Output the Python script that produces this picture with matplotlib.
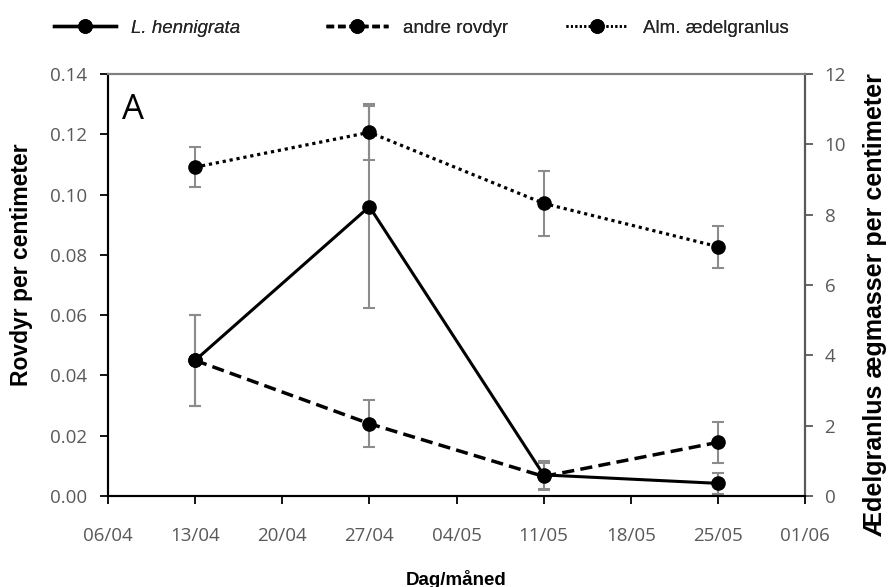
import matplotlib
matplotlib.use("Agg")
import matplotlib.pyplot as plt
import matplotlib.dates as mdates
from matplotlib.lines import Line2D
from datetime import datetime

# ---- data ----
sample_dates = ["13/04", "27/04", "11/05", "25/05"]
tick_dates = ["06/04", "13/04", "20/04", "27/04", "04/05", "11/05", "18/05", "25/05", "01/06"]
hennigrata = [0.045, 0.096, 0.007, 0.0042]
hennigrata_err = [0.015, 0.0335, 0.0047, 0.0036]
andre_rovdyr = [0.045, 0.024, 0.0065, 0.0178]
andre_rovdyr_err = [0.015, 0.0078, 0.0045, 0.0069]
granlus = [9.35, 10.34, 8.32, 7.09]
granlus_err = [0.56, 0.80, 0.92, 0.60]
left_ticks = [0.00, 0.02, 0.04, 0.06, 0.08, 0.10, 0.12, 0.14]
right_ticks = [0, 2, 4, 6, 8, 10, 12]
legend_labels = ["L. hennigrata", "andre rovdyr", "Alm. ædelgranlus"]

YEAR = 2013
def to_dt(s):
    d, m = s.split("/")
    return datetime(YEAR, int(m), int(d))

x = [to_dt(s) for s in sample_dates]
xt = [to_dt(s) for s in tick_dates]

tick_font = ["Open Sans", "DejaVu Sans"]
lab_font = ["Liberation Sans", "DejaVu Sans"]
leg_font = ["Liberation Sans", "DejaVu Sans"]
leg_size = 13.5
tick_color = "#595959"

fig = plt.figure(figsize=(8.88, 5.87), dpi=100)
ax = fig.add_axes([0.1216, 0.155, 0.785, 0.719])
ax2 = ax.twinx()

err_kw = dict(ecolor="#8c8c8c", elinewidth=1.5, capsize=4, capthick=1.5)
MS = 9.5
ls_solid = "-"
ls_dash = (0, (3.5, 1.8))
ls_dot = (0, (1, 1.2))

ax.errorbar(x, hennigrata, yerr=hennigrata_err, color="black", lw=2.2,
            ls=ls_solid, marker="o", ms=MS, **err_kw)
ax.errorbar(x, andre_rovdyr, yerr=andre_rovdyr_err, color="black", lw=2.5,
            ls=ls_dash, marker="o", ms=MS, **err_kw)
ax2.errorbar(x, granlus, yerr=granlus_err, color="black", lw=2.3,
             ls=ls_dot, marker="o", ms=MS, **err_kw)

ax.set_xlim(xt[0], xt[-1])
ax.set_ylim(0, 0.14)
ax2.set_ylim(0, 12)
ax.set_xticks(xt)
ax.xaxis.set_major_formatter(mdates.DateFormatter("%d/%m"))
ax.set_yticks(left_ticks)
ax.set_yticklabels([f"{v:.2f}" for v in left_ticks])
ax2.set_yticks(right_ticks)

for a in (ax, ax2):
    for sp in a.spines.values():
        sp.set_linewidth(1.5)
    a.spines["top"].set_color("#7f7f7f")
ax.spines["left"].set_color("black")
ax.spines["bottom"].set_color("black")
ax2.spines["right"].set_color("#595959")
ax.tick_params(axis="both", direction="out", length=6, width=1.3, colors="black",
               labelcolor=tick_color, labelsize=13.5)
ax.tick_params(axis="y", pad=9)
ax.tick_params(axis="x", pad=16)
ax2.tick_params(axis="y", direction="out", length=6, width=1.3, colors="#595959",
                labelcolor=tick_color, labelsize=13.5, pad=8)
for lab in ax.get_xticklabels() + ax.get_yticklabels() + ax2.get_yticklabels():
    lab.set_family(tick_font)

ax.set_ylabel("Rovdyr per centimeter", family=lab_font, fontweight="bold",
              fontsize=16.5, labelpad=12)
ax.yaxis.label.set_y(0.547)
ax2.set_ylabel("Ædelgranlus ægmasser per centimeter", family=lab_font,
               fontweight="bold", fontsize=18, labelpad=12)
ax2.yaxis.label.set_y(0.453)
ax.set_xlabel("Dag/måned", family=lab_font, fontweight="bold", fontsize=13.5,
              labelpad=18)

ax.text(0.02, 0.955, "A", transform=ax.transAxes, fontsize=25, va="top",
        ha="left", family=tick_font)

# legend: one entry per legend, placed like the reference
handles = [Line2D([], [], color="black", lw=2.4, ls=ls_solid, marker="o", ms=MS),
           Line2D([], [], color="black", lw=2.5, ls=(0, (2.2, 1.1)), marker="o", ms=MS),
           Line2D([], [], color="black", lw=2.0, ls=(0, (0.7, 0.9)), marker="o", ms=MS)]
starts = [54, 326, 566]
em = leg_size * 100 / 72
for i, (h, lab, sx) in enumerate(zip(handles, legend_labels, starts)):
    lg = fig.legend([h], [lab], loc="center left",
                    bbox_to_anchor=(sx / 888, 1 - 28 / 587),
                    frameon=False, handlelength=62 / em,
                    handletextpad=15 / em,
                    borderaxespad=0, borderpad=0,
                    prop={"family": leg_font, "size": leg_size})
    t = lg.get_texts()[0]
    t.set_color("#262626")
    if i == 0:
        t.set_style("italic")
    fig.add_artist(lg)

fig.savefig("out.png", dpi=100)
